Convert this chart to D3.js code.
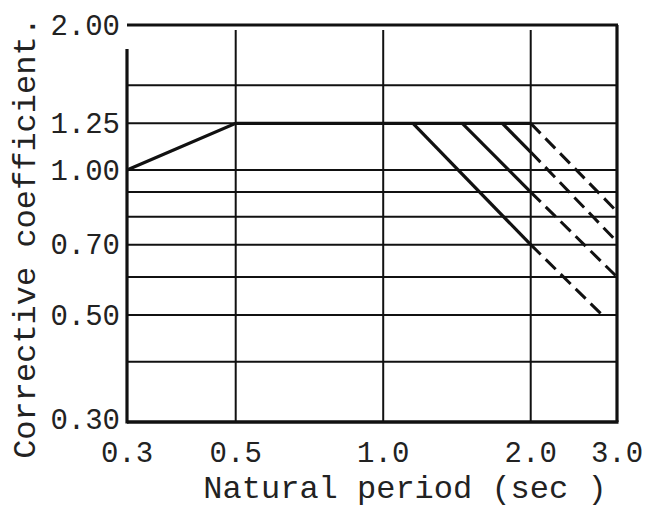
<!DOCTYPE html>
<html>
<head>
<meta charset="utf-8">
<script src="https://cdn.jsdelivr.net/npm/d3@7/dist/d3.min.js"></script>
<style>
  html, body { margin: 0; padding: 0; background: #fff; }
  svg text { font-family: "Liberation Mono", "DejaVu Sans Mono", monospace; fill: #222; }
</style>
</head>
<body>
<svg id="chart" width="647" height="513"></svg>
<script>
// ---- data ----
const xTicks = [0.3, 0.5, 1.0, 2.0, 3.0];
const xTickLabels = ["0.3", "0.5", "1.0", "2.0", "3.0"];
const yTicks = [2.0, 1.25, 1.0, 0.7, 0.5, 0.3];
const yTickLabels = ["2.00", "1.25", "1.00", "0.70", "0.50", "0.30"];
const yGrid = [1.5, 1.25, 1.0, 0.9, 0.8, 0.7, 0.6, 0.5, 0.4];
const xGrid = [0.5, 1.0, 2.0];

// base curve (period, coefficient)
const basePeriod = [0.3, 0.5, 2.0];
const baseCoef = [1.0, 1.25, 1.25];

// solid descending branches
const solidStartPeriod = [1.15, 1.45, 1.75];
const solidStartCoef = [1.25, 1.25, 1.25];
const solidEndPeriod = [2.0, 2.0, 2.0];
const solidEndCoef = [0.70, 0.90, 1.09];

// dashed descending branches
const dashStartPeriod = [2.0, 2.0, 2.0, 2.0];
const dashStartCoef = [0.70, 0.90, 1.09, 1.25];
const dashEndPeriod = [2.8, 3.0, 3.0, 3.0];
const dashEndCoef = [0.50, 0.60, 0.71, 0.82];

const xTitle = "Natural period (sec )";
const yTitle = "Corrective coefficient.";

// ---- drawing ----
const svg = d3.select("#chart");
const x = d3.scaleLog().domain([0.3, 3.0]).range([127, 617]);
const y = d3.scaleLog().domain([0.3, 2.0]).range([422, 25]);
const ink = "#111";

const line = d3.line().x(d => x(d[0])).y(d => y(d[1]));

// horizontal grid
svg.append("g").selectAll("line").data(yGrid).join("line")
  .attr("x1", x(0.3)).attr("x2", x(3.0))
  .attr("y1", d => y(d)).attr("y2", d => y(d))
  .attr("stroke", ink).attr("stroke-width", 2);

// vertical grid
svg.append("g").selectAll("line").data(xGrid).join("line")
  .attr("x1", d => x(d)).attr("x2", d => x(d))
  .attr("y1", y(2.0) + 5).attr("y2", y(0.3))
  .attr("stroke", ink).attr("stroke-width", 2);

// frame
const frame = svg.append("g").attr("stroke", ink).attr("stroke-width", 3.2).attr("fill", "none");
frame.append("line").attr("x1", x(0.3)).attr("x2", x(3.0) + 1).attr("y1", y(2.0)).attr("y2", y(2.0));
frame.append("line").attr("x1", x(3.0)).attr("x2", x(3.0)).attr("y1", y(2.0)).attr("y2", y(0.3));
frame.append("line").attr("x1", x(0.3)).attr("x2", x(3.0) + 1.5).attr("y1", y(0.3)).attr("y2", y(0.3)).attr("stroke-width", 3.6);
frame.append("line").attr("x1", x(0.3)).attr("x2", x(0.3)).attr("y1", y(2.0) + 24).attr("y2", y(0.3) + 1.5);

// base curve
svg.append("path").datum(basePeriod.map((p, i) => [p, baseCoef[i]]))
  .attr("d", line).attr("fill", "none").attr("stroke", ink).attr("stroke-width", 3.2);

// solid branches
svg.append("g").selectAll("path").data(solidStartPeriod.map((p, i) => [[p, solidStartCoef[i]], [solidEndPeriod[i], solidEndCoef[i]]]))
  .join("path").attr("d", line).attr("fill", "none").attr("stroke", ink).attr("stroke-width", 3.2);

// dashed branches
svg.append("g").selectAll("path").data(dashStartPeriod.map((p, i) => [[p, dashStartCoef[i]], [dashEndPeriod[i], dashEndCoef[i]]]))
  .join("path").attr("d", line).attr("fill", "none").attr("stroke", ink).attr("stroke-width", 3)
  .attr("stroke-dasharray", "14,7");

// y tick labels
svg.append("g").selectAll("text").data(yTicks).join("text")
  .attr("x", 120).attr("y", (d, i) => y(d) - (i === yTicks.length - 1 ? 3 : 0)).attr("dy", "0.33em")
  .attr("text-anchor", "end").style("font-size", "29px")
  .text((d, i) => yTickLabels[i]);

// x tick labels
svg.append("g").selectAll("text").data(xTicks).join("text")
  .attr("x", d => x(d)).attr("y", 462)
  .attr("text-anchor", "middle").style("font-size", "29px")
  .text((d, i) => xTickLabels[i]);

// axis titles
svg.append("text").attr("x", 405).attr("y", 498).attr("text-anchor", "middle")
  .style("font-size", "32px").text(xTitle);
svg.append("text").attr("transform", "translate(35,238) rotate(-90)").attr("text-anchor", "middle")
  .style("font-size", "32px").text(yTitle);
</script>
</body>
</html>
